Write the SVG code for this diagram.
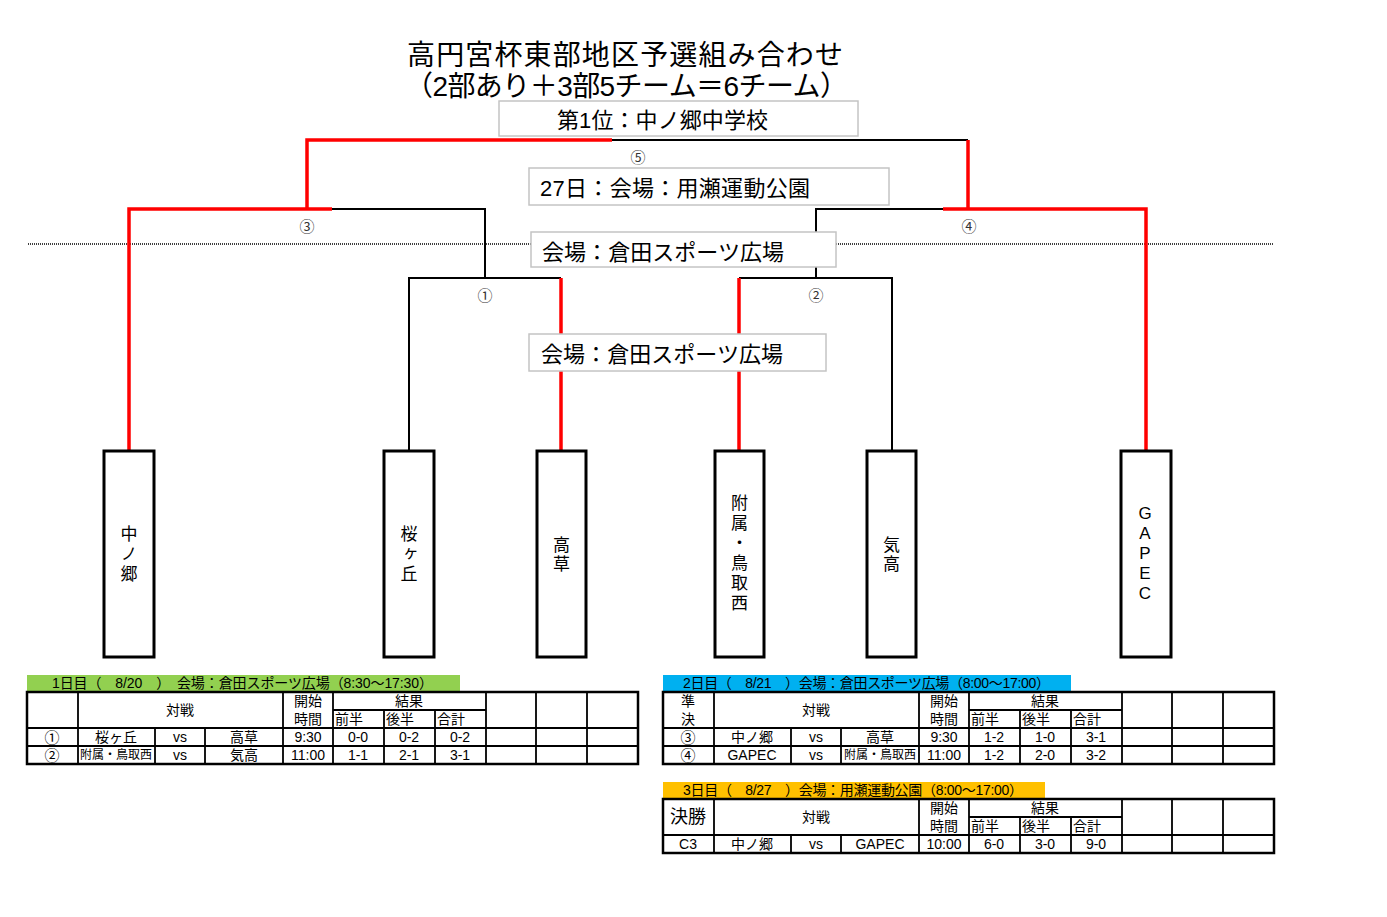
<svg xmlns="http://www.w3.org/2000/svg" width="1387" height="917" viewBox="0 0 1387 917">
<style>
text{font-family:"Liberation Sans","Noto Sans CJK JP",sans-serif;fill:#000}
.t{font-size:14px;dominant-baseline:central;text-anchor:middle}
.tl{font-size:14px;dominant-baseline:central;text-anchor:start}
.tn{font-size:12px;dominant-baseline:central;text-anchor:middle}
.blk{fill:none;stroke:#000;stroke-width:2}
.red{fill:none;stroke:#FF0000;stroke-width:3.5}
.lbl{fill:#fff;stroke:#c4c4c4;stroke-width:1.5}
.lt{font-size:22px;dominant-baseline:central}
.num{font-size:15px;dominant-baseline:central;text-anchor:middle;fill:#333}
.team{fill:#fff;stroke:#000;stroke-width:3}
.tt{font-size:17px;text-anchor:middle;writing-mode:vertical-rl;text-orientation:upright;letter-spacing:3px}
.go{fill:none;stroke:#000;stroke-width:2.5}
.gi{fill:none;stroke:#000;stroke-width:1.8}
.bt{font-size:14px;dominant-baseline:central}
</style>
<rect width="1387" height="917" fill="#fff"/>
<g id="title">
<text x="407" y="55" font-size="28" dominant-baseline="central" textLength="436">高円宮杯東部地区予選組み合わせ</text>
<text x="405" y="86" font-size="28" dominant-baseline="central" textLength="443">（2部あり＋3部5チーム＝6チーム）</text>
</g>
<line x1="28" y1="244" x2="1273" y2="244" stroke="#000" stroke-width="1.3" stroke-dasharray="1 1"/>
<g id="connectors">
<path class="blk" d="M332,209 H485 V278"/>
<path class="blk" d="M409,450 V278 H561"/>
<path class="blk" d="M612,140 H968"/>
<path class="blk" d="M739,278 H892 V450"/>
<path class="blk" d="M816,278 V209 H943"/>
<path class="red" d="M129,450 V209 H332"/>
<path class="red" d="M307,209 V140 H612"/>
<path class="red" d="M561,450 V278"/>
<path class="red" d="M739,450 V278"/>
<path class="red" d="M1146,450 V209 H943"/>
<path class="red" d="M968,209 V140"/>
<text class="num" x="638" y="157">⑤</text>
<text class="num" x="307" y="226">③</text>
<text class="num" x="969" y="226">④</text>
<text class="num" x="485" y="295">①</text>
<text class="num" x="816" y="295">②</text>
</g>
<g id="winner">
<rect class="lbl" x="499" y="101" width="359" height="35"/>
<text class="lt" x="557" y="120" textLength="211">第1位：中ノ郷中学校</text>
</g>
<g id="venue-final">
<rect class="lbl" x="529" y="168" width="360" height="37"/>
<text class="lt" x="540" y="188" textLength="270">27日：会場：用瀬運動公園</text>
</g>
<g id="venue-semi">
<rect class="lbl" x="531" y="232" width="305" height="35"/>
<text class="lt" x="542" y="252" textLength="242">会場：倉田スポーツ広場</text>
</g>
<g id="venue-r1">
<rect class="lbl" x="529" y="334" width="297" height="37"/>
<text class="lt" x="541" y="354" textLength="242">会場：倉田スポーツ広場</text>
</g>
<g id="team-nakanogo">
<rect class="team" x="104" y="451" width="50" height="206"/>
<text class="tt" x="127" y="555.5">中ノ郷</text>
</g>
<g id="team-sakuragaoka">
<rect class="team" x="384" y="451" width="50" height="206"/>
<text class="tt" x="407" y="555.5">桜ヶ丘</text>
</g>
<g id="team-takakusa">
<rect class="team" x="537" y="451" width="49" height="206"/>
<text class="tt" x="559.5" y="555" style="letter-spacing:2px">高草</text>
</g>
<g id="team-fuzoku">
<rect class="team" x="715" y="451" width="49" height="206"/>
<text class="tt" x="737.5" y="554.5">附属・鳥取西</text>
</g>
<g id="team-ketaka">
<rect class="team" x="867" y="451" width="49" height="206"/>
<text class="tt" x="889.5" y="555" style="letter-spacing:2px">気高</text>
</g>
<g id="team-gapec">
<rect class="team" x="1121" y="451" width="50" height="206"/>
<text class="tt" x="1145" y="554" style="letter-spacing:1px">GAPEC</text>
</g>
<g id="table-day1">
<rect x="27" y="675" width="433" height="16" fill="#92D050"/>
<text class="bt" x="52" y="683" textLength="381">1日目（　8/20　）　会場：倉田スポーツ広場（8:30～17:30）</text>
<path class="gi" d="M27,728 H638 M27,746 H638 M333,710 H486 M78,692 V764 M283,692 V764 M333,692 V764 M486,692 V764 M536,692 V764 M587,692 V764 M155,728 V764 M205,728 V764 M384,710 V764 M435,710 V764"/>
<rect class="go" x="27" y="692" width="611" height="72"/>
<text class="t" x="180" y="710">対戦</text>
<text class="t" x="308" y="701">開始</text>
<text class="t" x="308" y="719">時間</text>
<text class="t" x="409" y="701">結果</text>
<text class="tl" x="335" y="719">前半</text>
<text class="tl" x="386" y="719">後半</text>
<text class="tl" x="437" y="719">合計</text>
<text class="t" x="52" y="737" style="font-size:15px">①</text>
<text class="t" x="116" y="737">桜ヶ丘</text>
<text class="t" x="180" y="737">vs</text>
<text class="t" x="244" y="737">高草</text>
<text class="t" x="308" y="737">9:30</text>
<text class="t" x="358" y="737">0-0</text>
<text class="t" x="409" y="737">0-2</text>
<text class="t" x="460" y="737">0-2</text>
<text class="t" x="52" y="755" style="font-size:15px">②</text>
<text class="tn" x="116" y="755" textLength="72">附属・鳥取西</text>
<text class="t" x="180" y="755">vs</text>
<text class="t" x="244" y="755">気高</text>
<text class="t" x="308" y="755">11:00</text>
<text class="t" x="358" y="755">1-1</text>
<text class="t" x="409" y="755">2-1</text>
<text class="t" x="460" y="755">3-1</text>
</g>
<g id="table-day2">
<rect x="663" y="675" width="408" height="16" fill="#00B0F0"/>
<text class="bt" x="683" y="683" textLength="367">2日目（　8/21　）会場：倉田スポーツ広場（8:00～17:00）</text>
<path class="gi" d="M663,728 H1274 M663,746 H1274 M969,710 H1122 M714,692 V764 M919,692 V764 M969,692 V764 M1122,692 V764 M1172,692 V764 M1223,692 V764 M791,728 V764 M841,728 V764 M1020,710 V764 M1071,710 V764"/>
<rect class="go" x="663" y="692" width="611" height="72"/>
<text class="t" x="688" y="701">準</text>
<text class="t" x="688" y="719">決</text>
<text class="t" x="816" y="710">対戦</text>
<text class="t" x="944" y="701">開始</text>
<text class="t" x="944" y="719">時間</text>
<text class="t" x="1045" y="701">結果</text>
<text class="tl" x="971" y="719">前半</text>
<text class="tl" x="1022" y="719">後半</text>
<text class="tl" x="1073" y="719">合計</text>
<text class="t" x="688" y="737" style="font-size:15px">③</text>
<text class="t" x="752" y="737">中ノ郷</text>
<text class="t" x="816" y="737">vs</text>
<text class="t" x="880" y="737">高草</text>
<text class="t" x="944" y="737">9:30</text>
<text class="t" x="994" y="737">1-2</text>
<text class="t" x="1045" y="737">1-0</text>
<text class="t" x="1096" y="737">3-1</text>
<text class="t" x="688" y="755" style="font-size:15px">④</text>
<text class="t" x="752" y="755">GAPEC</text>
<text class="t" x="816" y="755">vs</text>
<text class="tn" x="880" y="755" textLength="72">附属・鳥取西</text>
<text class="t" x="944" y="755">11:00</text>
<text class="t" x="994" y="755">1-2</text>
<text class="t" x="1045" y="755">2-0</text>
<text class="t" x="1096" y="755">3-2</text>
</g>
<g id="table-day3">
<rect x="663" y="782" width="382" height="16" fill="#FFC000"/>
<text class="bt" x="683" y="790" textLength="340">3日目（　8/27　）会場：用瀬運動公園（8:00～17:00）</text>
<path class="gi" d="M663,835 H1274 M969,817 H1122 M714,799 V853 M919,799 V853 M969,799 V853 M1122,799 V853 M1172,799 V853 M1223,799 V853 M791,835 V853 M841,835 V853 M1020,817 V853 M1071,817 V853"/>
<rect class="go" x="663" y="799" width="611" height="54"/>
<text class="t" x="688" y="817" style="font-size:18px">決勝</text>
<text class="t" x="816" y="817">対戦</text>
<text class="t" x="944" y="808">開始</text>
<text class="t" x="944" y="826">時間</text>
<text class="t" x="1045" y="808">結果</text>
<text class="tl" x="971" y="826">前半</text>
<text class="tl" x="1022" y="826">後半</text>
<text class="tl" x="1073" y="826">合計</text>
<text class="t" x="688" y="844">C3</text>
<text class="t" x="752" y="844">中ノ郷</text>
<text class="t" x="816" y="844">vs</text>
<text class="t" x="880" y="844">GAPEC</text>
<text class="t" x="944" y="844">10:00</text>
<text class="t" x="994" y="844">6-0</text>
<text class="t" x="1045" y="844">3-0</text>
<text class="t" x="1096" y="844">9-0</text>
</g>
</svg>
